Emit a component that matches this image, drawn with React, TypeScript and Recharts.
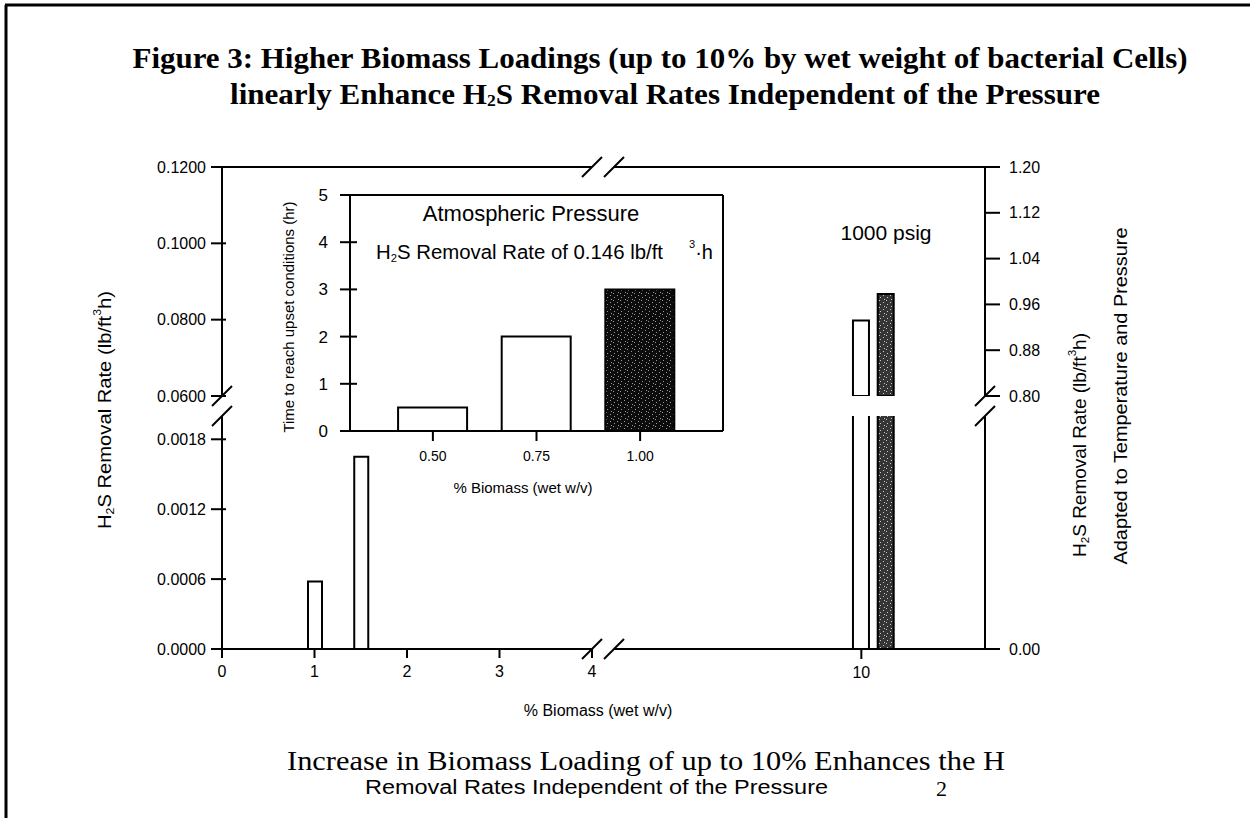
import React from 'react';
import { ComposedChart, BarChart, Bar, XAxis, YAxis, ReferenceLine, ReferenceDot, Cell } from 'recharts';

// ---- data ----
const atmBiomass = [1, 1.5];
const atmRemovalRate = [0.00058, 0.00165];
const psigBiomass = [10, 10.4];
const psigRemovalRate = [0.932, 0.978];
const psigDark = [false, true];

const insetBiomass = [0.5, 0.75, 1.0];
const insetHours = [0.5, 2, 3];
const insetDark = [false, false, true];

const upperLeftTicks = [0.06, 0.08, 0.1, 0.12];
const lowerLeftTicks = [0, 0.0006, 0.0012, 0.0018];
const upperRightTicks = [0.8, 0.88, 0.96, 1.04, 1.12, 1.2];
const lowerRightTicks = [0];
const xTicksLeft = [0, 1, 2, 3, 4];
const xTicksRight = [10];
const insetYTicks = [0, 1, 2, 3, 4, 5];
const insetXTicks = [0.5, 0.75, 1.0];

const mainRows = [
  ...atmBiomass.map((x, i) => ({ x, atm: atmRemovalRate[i], dark: false })),
  ...psigBiomass.map((x, i) => ({ x, psig: psigRemovalRate[i], dark: psigDark[i] })),
];
const insetRows = insetBiomass.map((x, i) => ({ x, hours: insetHours[i], dark: insetDark[i] }));

// ---- layout ----
const W = 1250;
const H = 818;
const PLOT_L = 222;
const PLOT_R = 985;
const UP_T = 167;
const UP_B = 396;
const LO_T = 416;
const LO_B = 649;
const BREAK_L = 592;
const BREAK_R = 614;
const AXW = 80;

const SANS = '"Liberation Sans", Arial, sans-serif';
const SERIF = '"Liberation Serif", "Times New Roman", serif';
const BLACK = '#000';

const slash = (props: any) => {
  const { cx, cy } = props;
  if (cx == null || cy == null) return <g />;
  return <line x1={cx - 10} y1={cy + 10} x2={cx + 10} y2={cy - 10} stroke={BLACK} strokeWidth={2} />;
};

const axisLineStyle = { stroke: BLACK, strokeWidth: 2 };
const tickStyle = { fill: BLACK, fontSize: 16, fontFamily: SANS };

// left-axis tick whose mark crosses the axis line
const crossTick = (fmt: (v: number) => string, size: number, margin: number, inner: number, fontSize: number) =>
  (props: any) => {
    const { x, y, payload } = props;
    const ax = x + size + margin;
    return (
      <g>
        <line x1={ax} y1={y} x2={ax + inner} y2={y} stroke={BLACK} strokeWidth={2} />
        <text x={x} y={y} dy="0.355em" textAnchor="end" fontSize={fontSize} fontFamily={SANS} fill={BLACK}>
          {fmt(payload.value)}
        </text>
      </g>
    );
  };

const fmt4 = (v: number) => v.toFixed(4);
const fmt2 = (v: number) => v.toFixed(2);
const fmt0 = (v: number) => String(v);

const Stipple = ({ id, bg, dot }: { id: string; bg: string; dot: string }) => (
  <defs>
    <pattern id={id} width={7} height={7} patternUnits="userSpaceOnUse">
      <rect width={7} height={7} fill={bg} />
      <rect x={1} y={1} width={1} height={1} fill={dot} />
      <rect x={5} y={3} width={1} height={1} fill={dot} />
      <rect x={2} y={5} width={1} height={1} fill={dot} />
      <rect x={4} y={6} width={1} height={1} fill={dot} />
    </pattern>
  </defs>
);

const xAxesMain = (show: boolean) => [
  <XAxis
    key="L"
    xAxisId="L"
    type="number"
    dataKey="x"
    domain={[0, 4]}
    allowDataOverflow
    ticks={xTicksLeft}
    hide={!show}
    height={1}
    padding={{ left: 0, right: PLOT_R - BREAK_L }}
    axisLine={false}
    tickLine={axisLineStyle}
    tickSize={9}
    tickMargin={8}
    tick={tickStyle}
  />,
  <XAxis
    key="R"
    xAxisId="R"
    type="number"
    dataKey="x"
    domain={[6, 12]}
    allowDataOverflow
    ticks={xTicksRight}
    hide={!show}
    height={1}
    padding={{ left: BREAK_R - PLOT_L, right: 0 }}
    axisLine={false}
    tickLine={axisLineStyle}
    tickSize={9}
    tickMargin={8}
    tick={tickStyle}
  />,
];

const psigBar = (
  <Bar
    xAxisId="R"
    yAxisId="right"
    dataKey="psig"
    barSize={16}
    stroke={BLACK}
    strokeWidth={2}
    isAnimationActive={false}
  >
    {mainRows.map((r, i) => (
      <Cell key={i} fill={r.dark ? 'url(#stipMain)' : '#fff'} />
    ))}
  </Bar>
);

function UpperPanel() {
  return (
    <ComposedChart
      width={W}
      height={H}
      data={mainRows}
      margin={{ top: UP_T, bottom: H - UP_B, left: PLOT_L - AXW, right: W - PLOT_R - AXW }}
    >
      <Stipple id="stipMain" bg="#353535" dot="#c8c8c8" />
      {xAxesMain(false)}
      <YAxis
        yAxisId="left"
        width={AXW}
        domain={[0.06, 0.12]}
        allowDataOverflow
        ticks={upperLeftTicks}
        axisLine={axisLineStyle}
        tickLine={axisLineStyle}
        tickSize={11}
        tickMargin={5}
        tick={crossTick(fmt4, 11, 5, 4, 16)}
      />
      <YAxis
        yAxisId="right"
        orientation="right"
        width={AXW}
        domain={[0.8, 1.2]}
        allowDataOverflow
        ticks={upperRightTicks}
        tickFormatter={fmt2}
        axisLine={axisLineStyle}
        tickLine={axisLineStyle}
        tickSize={15}
        tickMargin={9}
        tick={tickStyle}
      />
      <ReferenceLine xAxisId="L" yAxisId="left" segment={[{ x: 0, y: 0.12 }, { x: 4, y: 0.12 }]} stroke={BLACK} strokeWidth={2} ifOverflow="visible" />
      <ReferenceLine xAxisId="R" yAxisId="left" segment={[{ x: 6, y: 0.12 }, { x: 12, y: 0.12 }]} stroke={BLACK} strokeWidth={2} ifOverflow="visible" />
      <ReferenceDot xAxisId="L" yAxisId="left" x={4} y={0.12} shape={slash} ifOverflow="visible" />
      <ReferenceDot xAxisId="R" yAxisId="left" x={6} y={0.12} shape={slash} ifOverflow="visible" />
      <ReferenceDot xAxisId="L" yAxisId="left" x={0} y={0.06} shape={slash} ifOverflow="visible" />
      <ReferenceDot xAxisId="R" yAxisId="right" x={12} y={0.8} shape={slash} ifOverflow="visible" />
      {psigBar}
    </ComposedChart>
  );
}

function LowerPanel() {
  return (
    <ComposedChart
      width={W}
      height={H}
      data={mainRows}
      margin={{ top: LO_T, bottom: H - LO_B - 2, left: PLOT_L - AXW, right: W - PLOT_R - AXW }}
    >
      <Stipple id="stipMain2" bg="#353535" dot="#c8c8c8" />
      {xAxesMain(true)}
      <YAxis
        yAxisId="left"
        width={AXW}
        domain={[0, 0.002]}
        allowDataOverflow
        ticks={lowerLeftTicks}
        axisLine={axisLineStyle}
        tickLine={axisLineStyle}
        tickSize={11}
        tickMargin={5}
        tick={crossTick(fmt4, 11, 5, 4, 16)}
      />
      <YAxis
        yAxisId="right"
        orientation="right"
        width={AXW}
        domain={[0, 0.8]}
        allowDataOverflow
        ticks={lowerRightTicks}
        tickFormatter={fmt2}
        axisLine={axisLineStyle}
        tickLine={axisLineStyle}
        tickSize={15}
        tickMargin={9}
        tick={tickStyle}
      />
      <ReferenceLine xAxisId="L" yAxisId="left" segment={[{ x: 0, y: 0 }, { x: 4, y: 0 }]} stroke={BLACK} strokeWidth={2} ifOverflow="visible" />
      <ReferenceLine xAxisId="R" yAxisId="left" segment={[{ x: 6, y: 0 }, { x: 12, y: 0 }]} stroke={BLACK} strokeWidth={2} ifOverflow="visible" />
      <ReferenceDot xAxisId="L" yAxisId="left" x={4} y={0} shape={slash} ifOverflow="visible" />
      <ReferenceDot xAxisId="R" yAxisId="left" x={6} y={0} shape={slash} ifOverflow="visible" />
      <ReferenceDot xAxisId="L" yAxisId="left" x={0} y={0.002} shape={slash} ifOverflow="visible" />
      <ReferenceDot xAxisId="R" yAxisId="right" x={12} y={0.8} shape={slash} ifOverflow="visible" />
      <Bar
        xAxisId="L"
        yAxisId="left"
        dataKey="atm"
        barSize={14}
        fill="#fff"
        stroke={BLACK}
        strokeWidth={2}
        isAnimationActive={false}
      />
      {psigBar}
    </ComposedChart>
  );
}

const IN_L = 350;
const IN_R = 723;
const IN_T = 195;
const IN_B = 431;

function Inset() {
  return (
    <BarChart
      width={W}
      height={H}
      data={insetRows}
      margin={{ top: IN_T - 1, bottom: H - IN_B - 1, left: IN_L - 40, right: W - IN_R - 1 }}
    >
      <Stipple id="stipInset" bg="#0c0c0c" dot="#9a9a9a" />
      <XAxis
        xAxisId="b"
        type="number"
        dataKey="x"
        domain={[0.3, 1.2]}
        ticks={insetXTicks}
        tickFormatter={fmt2}
        height={1}
        axisLine={axisLineStyle}
        tickLine={axisLineStyle}
        tickSize={10}
        tickMargin={10}
        tick={{ fill: BLACK, fontSize: 14, fontFamily: SANS }}
      />
      <XAxis
        xAxisId="t"
        orientation="top"
        type="number"
        dataKey="x"
        domain={[0.3, 1.2]}
        height={1}
        axisLine={axisLineStyle}
        tick={false}
        tickLine={false}
      />
      <YAxis
        yAxisId="l"
        width={40}
        domain={[0, 5]}
        ticks={insetYTicks}
        axisLine={axisLineStyle}
        tickLine={axisLineStyle}
        tickSize={10}
        tickMargin={12}
        tick={crossTick(fmt0, 10, 12, 7, 17)}
      />
      <YAxis
        yAxisId="r"
        orientation="right"
        width={1}
        domain={[0, 5]}
        axisLine={axisLineStyle}
        tick={false}
        tickLine={false}
      />
      <Bar
        xAxisId="b"
        yAxisId="l"
        dataKey="hours"
        barSize={69}
        stroke={BLACK}
        strokeWidth={2}
        isAnimationActive={false}
      >
        {insetRows.map((r, i) => (
          <Cell key={i} fill={r.dark ? 'url(#stipInset)' : '#fff'} />
        ))}
      </Bar>
    </BarChart>
  );
}

function TextLayer() {
  return (
    <svg width={W} height={H} style={{ position: 'absolute', left: 0, top: 0, pointerEvents: 'none' }}>
      <line x1={5} y1={5} x2={W} y2={5} stroke={BLACK} strokeWidth={3} />
      <line x1={6} y1={5} x2={6} y2={H} stroke={BLACK} strokeWidth={3} />

      <text x={660} y={57} textAnchor="middle" dominantBaseline="central" fontFamily={SERIF} fontWeight="bold" fontSize={30} textLength={1055} lengthAdjust="spacingAndGlyphs">
        Figure 3:  Higher Biomass Loadings (up to 10% by wet weight of bacterial Cells)
      </text>
      <text x={665} y={93} textAnchor="middle" dominantBaseline="central" fontFamily={SERIF} fontWeight="bold" fontSize={30} textLength={870} lengthAdjust="spacingAndGlyphs">
        linearly Enhance H<tspan fontSize={17} dy={7}>2</tspan><tspan dy={-7}>S Removal  Rates  Independent of the Pressure</tspan>
      </text>

      <text x={886} y={232} textAnchor="middle" dominantBaseline="central" fontFamily={SANS} fontSize={21}>1000 psig</text>

      <text x={531} y={213} textAnchor="middle" dominantBaseline="central" fontFamily={SANS} fontSize={22}>Atmospheric Pressure</text>
      <text x={376} y={252} dominantBaseline="central" fontFamily={SANS} fontSize={20} textLength={287} lengthAdjust="spacingAndGlyphs">
        H<tspan fontSize={11} dy={6}>2</tspan><tspan dy={-6}>S Removal Rate of 0.146 lb/ft</tspan>
      </text>
      <text x={689} y={252} dominantBaseline="central" fontFamily={SANS} fontSize={20}>
        <tspan fontSize={11} dy={-8}>3</tspan><tspan dy={8}>·h</tspan>
      </text>

      <text transform="translate(288,317) rotate(-90)" textAnchor="middle" dominantBaseline="central" fontFamily={SANS} fontSize={15}>
        Time to reach upset conditions (hr)
      </text>
      <text x={523} y={487} textAnchor="middle" dominantBaseline="central" fontFamily={SANS} fontSize={15}>% Biomass (wet w/v)</text>

      <text x={598} y={710} textAnchor="middle" dominantBaseline="central" fontFamily={SANS} fontSize={16}>% Biomass (wet w/v)</text>

      <text transform="translate(105,410) rotate(-90)" textAnchor="middle" dominantBaseline="central" fontFamily={SANS} fontSize={18} textLength={238} lengthAdjust="spacingAndGlyphs">
        H<tspan fontSize={11} dy={5}>2</tspan><tspan dy={-5}>S Removal Rate (lb/ft</tspan><tspan fontSize={11} dy={-8}>3</tspan><tspan dy={8}>h)</tspan>
      </text>
      <text transform="translate(1080,445) rotate(-90)" textAnchor="middle" dominantBaseline="central" fontFamily={SANS} fontSize={18} textLength={224} lengthAdjust="spacingAndGlyphs">
        H<tspan fontSize={11} dy={5}>2</tspan><tspan dy={-5}>S Removal Rate (lb/ft</tspan><tspan fontSize={11} dy={-8}>3</tspan><tspan dy={8}>h)</tspan>
      </text>
      <text transform="translate(1120,396) rotate(-90)" textAnchor="middle" dominantBaseline="central" fontFamily={SANS} fontSize={19} textLength={337} lengthAdjust="spacingAndGlyphs">
        Adapted to Temperature and Pressure
      </text>

      <text x={287} y={760} dominantBaseline="central" fontFamily={SERIF} fontSize={28} textLength={718} lengthAdjust="spacingAndGlyphs">
        Increase in Biomass Loading of up to 10% Enhances the H
      </text>
      <text x={936} y={788} dominantBaseline="central" fontFamily={SERIF} fontSize={22}>2</text>
      <text x={365} y={787} dominantBaseline="central" fontFamily={SANS} fontSize={20} textLength={463} lengthAdjust="spacingAndGlyphs">
        Removal Rates Independent of the Pressure
      </text>
    </svg>
  );
}

export default function App() {
  return (
    <div style={{ position: 'absolute', left: 0, top: 0, width: W, height: H, background: '#fff', overflow: 'hidden', fontFamily: SANS }}>
      <div style={{ position: 'absolute', left: 0, top: 0 }}>
        <UpperPanel />
      </div>
      <div style={{ position: 'absolute', left: 0, top: 0 }}>
        <LowerPanel />
      </div>
      <div style={{ position: 'absolute', left: 0, top: 0 }}>
        <Inset />
      </div>
      <TextLayer />
    </div>
  );
}
